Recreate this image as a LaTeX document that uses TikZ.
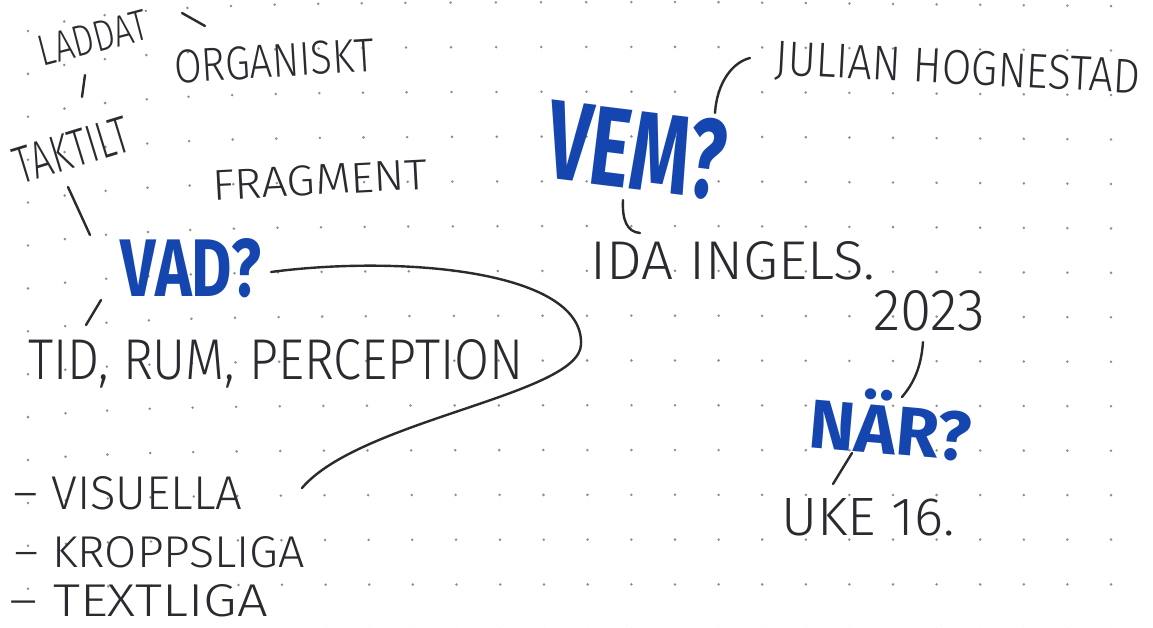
\documentclass[tikz,border=0pt]{standalone}
\usepackage{fontspec}
\setmainfont{Fira Sans}
\IfFontExistsTF{Fira Sans Light}{\newfontfamily\handfont{Fira Sans Light}}{\newfontfamily\handfont{Fira Sans}}
\usepackage{graphicx}
\definecolor{ink}{HTML}{2A2A30}
\definecolor{blueink}{HTML}{1546B0}
\definecolor{dotc}{HTML}{8E8E8E}
\newcommand{\hwtext}[3]{\resizebox{#1pt}{#2pt}{#3}}
\tikzset{
  lbl/.style={inner sep=0pt, text=ink, font=\handfont},
  qlbl/.style={inner sep=0pt, text=blueink, font=\bfseries},
  pen/.style={draw=ink, line width=2.4pt, line cap=round, line join=round},
  griddot/.style={fill=dotc}
}
\begin{document}
\begin{tikzpicture}[x=1pt,y=-1pt]
\fill[white] (0,0) rectangle (1153,628);
\useasboundingbox (0,0) rectangle (1153,628);

% dotted paper (slightly warped like the photo)
\foreach \i in {0,...,26}{
  \foreach \j in {0,...,14}{
    \pgfmathsetmacro{\bx}{21+43.6*\i}
    \pgfmathsetmacro{\wt}{max(0,min(1,min(\i/4,(14-\i)/5)))}
    \pgfmathsetmacro{\xx}{\bx + 7*exp(-1.5*\i) - 8*max(0,1-\j/14)*\wt}
    \pgfmathsetmacro{\yy}{2+44.8*\j + max(0,29-1.9*\j)*exp(-(\bx-21)/110) + 4*max(0,1-\j/12)*max(0,(\bx-700)/400)}
    \fill[griddot] (\xx,\yy) circle[radius=1.4pt];
  }
}

% black labels
\node[lbl, rotate=14.5] (laddat) at (93,38) {\hwtext{112}{30}{LADDAT}};
\node[lbl, rotate=3.5] (organiskt) at (274,61) {\hwtext{200}{33}{ORGANISKT}};
\node[lbl, rotate=17] (taktilt) at (72,150) {\hwtext{118}{36}{TAKTILT}};
\node[lbl, rotate=3] (fragment) at (320,180) {\hwtext{215}{30}{FRAGMENT}};
\node[lbl] (tid) at (276,364) {\hwtext{495}{40}{TID, RUM, PERCEPTION}};
\node[lbl] (visuella) at (128,493) {\hwtext{229}{33}{– VISUELLA}};
\node[lbl] (kropp) at (160,552) {\hwtext{290}{31}{– KROPPSLIGA}};
\node[lbl] (text) at (139,601) {\hwtext{258}{32}{– TEXTLIGA}};
\node[lbl, rotate=-3] (julian) at (958,70) {\hwtext{365}{34}{JULIAN HOGNESTAD}};
\node[lbl] (ida) at (733,261) {\hwtext{285}{38}{IDA INGELS.}};
\node[lbl] (year) at (929,311) {\hwtext{112}{40}{2023}};
\node[lbl] (uke) at (868,517) {\hwtext{173}{37}{UKE 16.}};

% blue questions
\node[qlbl] (vad) at (191,268) {\hwtext{140}{58}{VAD?}};
\node[qlbl, rotate=-7] (vem) at (637,150) {\hwtext{178}{80}{VEM?}};
\node[qlbl, rotate=-5] (nar) at (891,423) {\hwtext{162}{64}{NÄR?}};

% connector strokes
\coordinate (t1a) at (182,13);  \coordinate (t1b) at (205,26);
\coordinate (t2a) at (85,75);   \coordinate (t2b) at (82,97);
\coordinate (t3a) at (68,187);  \coordinate (t3b) at (90,235);
\coordinate (t4a) at (101,300); \coordinate (t4b) at (86,325);
\coordinate (c1) at (271,272);  \coordinate (cm) at (581,345); \coordinate (c2) at (302,488);
\coordinate (j1) at (715,113);  \coordinate (j2) at (750,58);
\coordinate (i1) at (623,200);  \coordinate (i2) at (640,233);
\coordinate (n1) at (923,342);  \coordinate (n2) at (902,397);
\coordinate (u1) at (852,453);  \coordinate (u2) at (833,484);

\draw[pen] (t1a) -- (t1b);
\draw[pen] (t2a) -- (t2b);
\draw[pen] (t3a) -- (t3b);
\draw[pen] (t4a) -- (t4b);
\draw[pen] (c1) .. controls (400,255) and (585,270) .. (cm)
               .. controls (578,395) and (360,420) .. (c2);
\draw[pen] (j1) .. controls (717,82) and (733,62) .. (j2);
\draw[pen] (i1) .. controls (622,220) and (627,232) .. (i2);
\draw[pen] (n1) .. controls (921,370) and (912,385) .. (n2);
\draw[pen] (u1) -- (u2);
\end{tikzpicture}
\end{document}
